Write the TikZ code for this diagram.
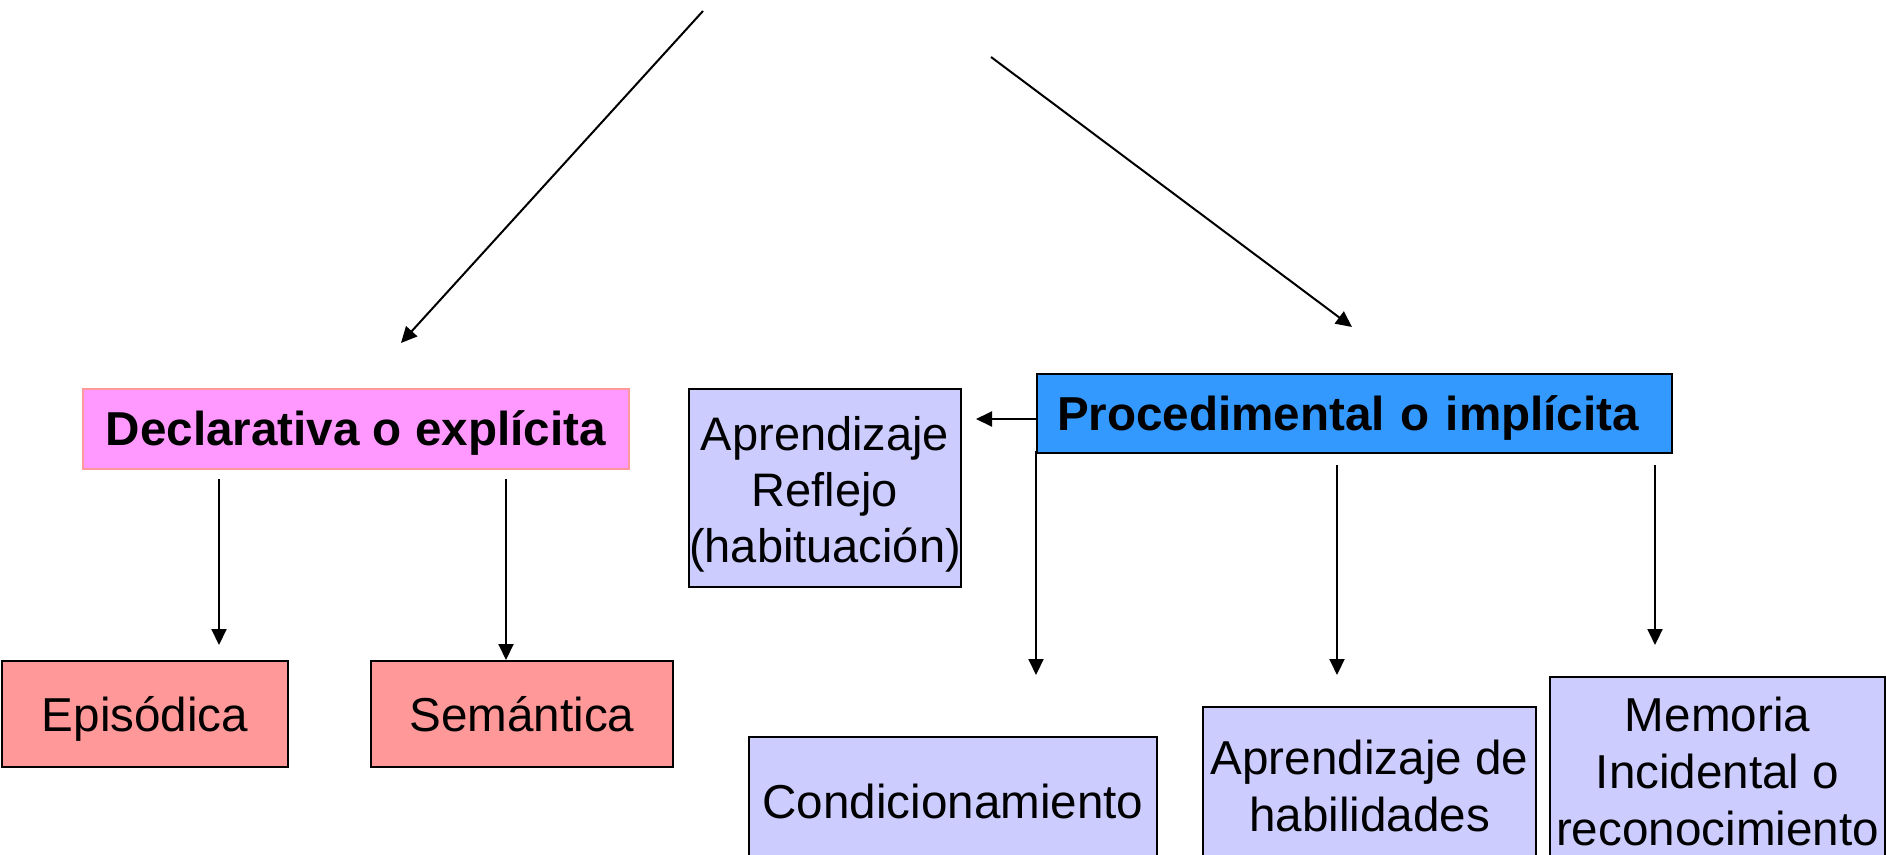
\documentclass[tikz,border=0pt]{standalone}
\usepackage{fontspec}
\setmainfont{Liberation Sans}
\usetikzlibrary{arrows.meta}
\definecolor{pinkbg}{HTML}{FF99FF}
\definecolor{salmonb}{HTML}{FF9999}
\definecolor{bluebg}{HTML}{3399FF}
\definecolor{lavbg}{HTML}{CCCCFF}
\begin{document}
\begin{tikzpicture}[x=1pt,y=-1pt,
  box/.style={draw=black, line width=2pt, inner sep=0pt, align=center,
    font=\fontsize{47.6}{57}\selectfont, anchor=north west},
  oneline/.style={text height=34.2pt, text depth=0pt},
  boldtxt/.style={font=\fontsize{47.6}{57}\selectfont\bfseries},
  conn/.style={line width=2pt, -{Triangle[length=16pt,width=15pt]}}]
\useasboundingbox (0,0) rectangle (1886,854);
\clip (0,0) rectangle (1886,854);
\fill[white] (0,0) rectangle (1886,854);

% boxes
\node[box, boldtxt, oneline, fill=pinkbg, draw=salmonb, line width=1.5pt,
  minimum width=546pt, minimum height=80pt] (decl) at (82,388) {Declarativa o explícita};
\node[box, boldtxt, oneline, fill=bluebg, minimum width=635pt, minimum height=79pt,
  text width=595pt, align=left, inner xsep=20pt] (proc) at (1036,373) {Procedimental o implícita};
\node[box, fill=lavbg, text width=272pt, minimum height=198pt,
  font=\fontsize{47}{56}\selectfont] (refl) at (688,388)
  {\rule{0pt}{47pt}Aprendizaje \\ Reflejo\\(habituación)};
\node[box, oneline, fill=salmonb, minimum width=286pt, minimum height=106pt] (epi) at (1,660) {Episódica};
\node[box, oneline, fill=salmonb, minimum width=302pt, minimum height=106pt] (sem) at (370,660) {Semántica};
\node[box, oneline, fill=lavbg, minimum width=408pt, minimum height=128pt] (cond) at (748,736) {Condicionamiento};
\node[box, fill=lavbg, minimum width=333pt, minimum height=158pt] (hab) at (1202,706)
  {Aprendizaje de\\habilidades};
\node[box, fill=lavbg, minimum width=335pt, minimum height=188pt] (mem) at (1549,676)
  {Memoria\\Incidental o\\reconocimiento};

% free connector ends
\coordinate (a1s) at (703,11);
\coordinate (a1e) at (401,343);
\coordinate (a2s) at (991,57);
\coordinate (a2e) at (1352,327);
\coordinate (de1s) at (219,479);
\coordinate (de1e) at (219,645);
\coordinate (de2s) at (506,479);
\coordinate (de2e) at (506,660);
\coordinate (prs) at (1036,419);
\coordinate (pre) at (976,419);
\coordinate (pv1s) at (1036,451);
\coordinate (pv1e) at (1036,675);
\coordinate (pv2s) at (1337,465);
\coordinate (pv2e) at (1337,675);
\coordinate (pv3s) at (1655,465);
\coordinate (pv3e) at (1655,645);

% connectors
\draw[conn] (a1s) -- (a1e);
\draw[conn] (a2s) -- (a2e);
\draw[conn] (de1s) -- (de1e);
\draw[conn] (de2s) -- (de2e);
\draw[conn] (prs) -- (pre);
\draw[conn] (pv1s) -- (pv1e);
\draw[conn] (pv2s) -- (pv2e);
\draw[conn] (pv3s) -- (pv3e);
\end{tikzpicture}
\end{document}
